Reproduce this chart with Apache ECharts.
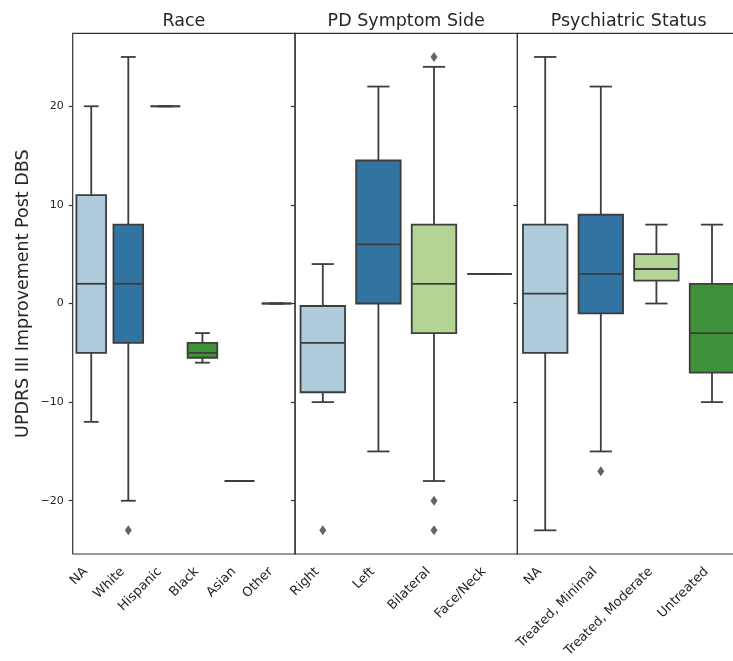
<!DOCTYPE html>
<html>
<head>
<meta charset="utf-8">
<script src="https://cdn.jsdelivr.net/npm/echarts@6/dist/echarts.min.js"></script>
<style>
  html, body { margin: 0; padding: 0; background: #fff; overflow: hidden; }
  /* the last panel runs past the right edge of the window, like the original crop */
  #chart { width: 742px; height: 661px; }
</style>
</head>
<body>
<div id="chart"></div>
<script>
// box stats per category: [lowWhisker, q1, median, q3, highWhisker]
const raceCats = ['NA', 'White', 'Hispanic', 'Black', 'Asian', 'Other']
const raceBoxes = [
  [-12, -5, 2, 11, 20],
  [-20, -4, 2, 8, 25],
  [20, 20, 20, 20, 20],
  [-6, -5.5, -5, -4, -3],
  [-18, -18, -18, -18, -18],
  [0, 0, 0, 0, 0]
]
const raceOutliers = [[1, -23]]

const sideCats = ['Right', 'Left', 'Bilateral', 'Face/Neck']
const sideBoxes = [
  [-10, -9, -4, -0.25, 4],
  [-15, 0, 6, 14.5, 22],
  [-18, -3, 2, 8, 24],
  [3, 3, 3, 3, 3]
]
const sideOutliers = [[0, -23], [2, 25], [2, -20], [2, -23]]

const psychCats = ['NA', 'Treated, Minimal', 'Treated, Moderate', 'Untreated']
const psychBoxes = [
  [-23, -5, 1, 8, 25],
  [-15, -1, 3, 9, 22],
  [0, 2.33, 3.5, 5, 8],
  [-10, -7, -3, 2, 8]
]
const psychOutliers = [[1, -17]]

const yTicks = [-20, -10, 0, 10, 20]
const panelTitles = ['Race', 'PD Symptom Side', 'Psychiatric Status']
const yName = 'UPDRS III Improvement Post DBS'

// desaturated "Paired" palette, like seaborn
const palette = ['#aeccdb', '#3274a1', '#b3d495', '#40923a', '#e1a3a2', '#c0463c']
const LINE = '#3d3d3d'
const LW = 1.8
const FONT = 'DejaVu Sans'

const panels = [
  { cats: raceCats, boxes: raceBoxes, outliers: raceOutliers, left: 72.7 },
  { cats: sideCats, boxes: sideBoxes, outliers: sideOutliers, left: 295 },
  { cats: psychCats, boxes: psychBoxes, outliers: psychOutliers, left: 517.4 }
]
const PANEL_W = 222.4
const TOP = 33.3
const HEIGHT = 520.7

function renderBox (params, api) {
  const x = api.value(0)
  const bw = api.size([1, 0])[0] * 0.8
  const low = api.coord([x, api.value(1)])
  const q1 = api.coord([x, api.value(2)])
  const med = api.coord([x, api.value(3)])
  const q3 = api.coord([x, api.value(4)])
  const high = api.coord([x, api.value(5)])
  const cx = low[0]
  const line = { stroke: LINE, lineWidth: LW }
  return {
    type: 'group',
    children: [
      { type: 'line', shape: { x1: cx, y1: q3[1], x2: cx, y2: high[1] }, style: line },
      { type: 'line', shape: { x1: cx, y1: q1[1], x2: cx, y2: low[1] }, style: line },
      { type: 'line', shape: { x1: cx - bw / 4, y1: high[1], x2: cx + bw / 4, y2: high[1] }, style: line },
      { type: 'line', shape: { x1: cx - bw / 4, y1: low[1], x2: cx + bw / 4, y2: low[1] }, style: line },
      {
        type: 'rect',
        shape: { x: cx - bw / 2, y: q3[1], width: bw, height: q1[1] - q3[1] },
        style: { fill: palette[params.dataIndex % palette.length], stroke: LINE, lineWidth: LW }
      },
      { type: 'line', shape: { x1: cx - bw / 2, y1: med[1], x2: cx + bw / 2, y2: med[1] }, style: line }
    ]
  }
}

const grid = []
const xAxis = []
const yAxis = []
const series = []
const graphic = []

panels.forEach((p, i) => {
  grid.push({
    left: p.left,
    top: TOP,
    width: PANEL_W,
    height: HEIGHT,
    show: true,
    borderColor: '#333',
    borderWidth: 1.2,
    backgroundColor: 'transparent'
  })
  xAxis.push({
    type: 'category',
    gridIndex: i,
    data: p.cats,
    boundaryGap: true,
    axisLine: { show: false },
    axisTick: { alignWithLabel: true, length: 5, lineStyle: { color: '#333', width: 1.2 } },
    axisLabel: {
      rotate: 45,
      margin: 10,
      padding: [0, 8, 0, 0],
      fontSize: 13,
      color: '#262626',
      fontFamily: FONT,
      interval: 0
    },
    splitLine: { show: false }
  })
  yAxis.push({
    type: 'value',
    gridIndex: i,
    min: -25.4,
    max: 27.4,
    name: i === 0 ? yName : '',
    nameLocation: 'middle',
    nameGap: 40,
    nameTextStyle: { fontSize: 17.5, color: '#262626', fontFamily: FONT },
    axisLine: { show: false },
    splitLine: { show: false },
    axisTick: { show: true, customValues: yTicks, length: 4, lineStyle: { color: '#333', width: 1.2 } },
    axisLabel: {
      show: i === 0,
      customValues: yTicks,
      margin: 9,
      fontSize: 11,
      color: '#262626',
      fontFamily: FONT,
      formatter: v => String(v).replace('-', '\u2212')
    }
  })
  series.push({
    type: 'custom',
    xAxisIndex: i,
    yAxisIndex: i,
    renderItem: renderBox,
    encode: { x: 0, y: [1, 2, 3, 4, 5] },
    data: p.boxes.map((b, k) => [k].concat(b)),
    z: 2
  })
  series.push({
    type: 'scatter',
    xAxisIndex: i,
    yAxisIndex: i,
    symbol: 'diamond',
    symbolSize: [7, 10],
    itemStyle: { color: LINE },
    data: p.outliers,
    z: 3
  })
  graphic.push({
    type: 'text',
    x: p.left + PANEL_W / 2,
    y: 21,
    style: {
      text: panelTitles[i],
      align: 'center',
      verticalAlign: 'middle',
      textAlign: 'center',
      textVerticalAlign: 'middle',
      font: '17.5px "DejaVu Sans"',
      fill: '#262626'
    }
  })
})

const chart = echarts.init(document.getElementById('chart'))
chart.setOption({
  animation: false,
  backgroundColor: '#fff',
  grid,
  xAxis,
  yAxis,
  series,
  graphic
})
</script>
</body>
</html>
